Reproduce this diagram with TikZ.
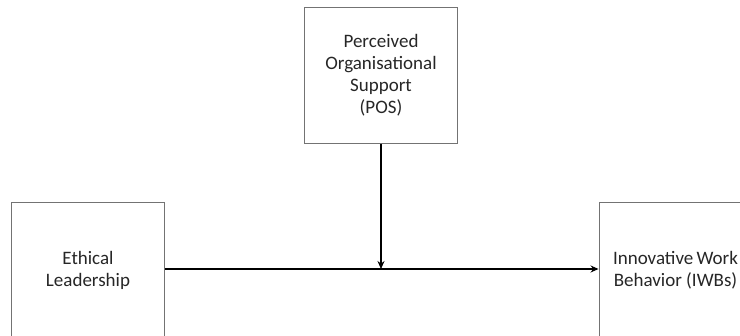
\documentclass[tikz,border=0pt]{standalone}
\usepackage{fontspec}
\setmainfont{Carlito}
\usetikzlibrary{arrows.meta}
\begin{document}
\begin{tikzpicture}[x=1pt,y=-1pt,
  box/.style={draw=black!55,line width=0.9pt,rectangle,minimum width=153pt,minimum height=136pt,
    align=center,font=\fontsize{19pt}{22pt}\selectfont,text=black!85,inner sep=0pt},
  link/.style={line width=1.8pt,-{Stealth[length=8pt,width=7pt]}}]
\useasboundingbox (0,0) rectangle (740,336);
\node[box] (pos) at (381,75.5) {Perceived\\Organisational\\Support\\(POS)};
\node[box] (el) at (88,270) {Ethical\\Leadership};
\node[box] (iwb) at (675.5,270) {Innovative\,Work\\Behavior (IWBs)};
\coordinate (m) at (381,269);
\draw[link] (el.east |- 0,269) -- (iwb.west |- 0,269);
\draw[link] (pos.south) -- (m);
\end{tikzpicture}
\end{document}
